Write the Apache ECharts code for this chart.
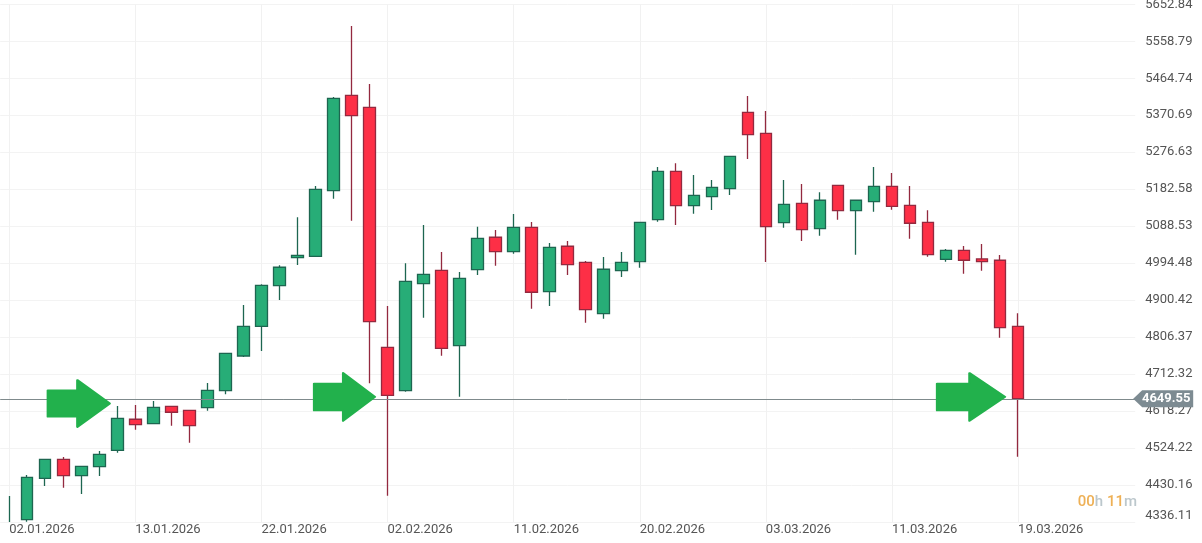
<!DOCTYPE html>
<html><head><meta charset="utf-8">
<style>html,body{margin:0;padding:0;background:#fff}#c{width:1202px;height:543px}</style>
<script src="https://cdn.jsdelivr.net/npm/echarts@6/dist/echarts.min.js"></script>
</head><body><div id="c"></div>
<script>
const categories = ['02.01.2026','05.01.2026','06.01.2026','07.01.2026','08.01.2026','09.01.2026','12.01.2026','13.01.2026','14.01.2026','15.01.2026','16.01.2026','19.01.2026','20.01.2026','21.01.2026','22.01.2026','23.01.2026','26.01.2026','27.01.2026','28.01.2026','29.01.2026','30.01.2026','02.02.2026','03.02.2026','04.02.2026','05.02.2026','06.02.2026','09.02.2026','10.02.2026','11.02.2026','12.02.2026','13.02.2026','16.02.2026','17.02.2026','18.02.2026','19.02.2026','20.02.2026','23.02.2026','24.02.2026','25.02.2026','26.02.2026','27.02.2026','02.03.2026','03.03.2026','04.03.2026','05.03.2026','06.03.2026','08.03.2026','09.03.2026','10.03.2026','11.03.2026','12.03.2026','13.03.2026','15.03.2026','16.03.2026','17.03.2026','18.03.2026','19.03.2026','','','','','',''];
const yTicks = [4336.11,4430.16,4524.22,4618.27,4712.32,4806.37,4900.42,4994.48,5088.53,5182.58,5276.63,5370.69,5464.74,5558.79,5652.84];
const opens = [4300,4342.0,4447.3,4495.6,4453.9,4476.8,4518.5,4597.4,4586.2,4630.4,4620.2,4626.9,4670.1,4758.3,4833.9,4937.1,5008.4,5011.9,5178.8,5421.4,5390.9,4780.5,4670.1,4942.2,4976.3,4784.6,4977.8,5060.3,5023.6,5085.7,4921.9,5037.4,4996.7,4865.9,4975.3,4998.2,5105,5228.1,5140.6,5163.5,5183.9,5378.2,5324.8,5097.4,5146.7,5082.1,5192.5,5127.9,5150.8,5190,5141.6,5098.4,5004.3,5027.2,5005.1,5001.8,4833.9];
const closes = [4325,4449.8,4495.6,4453.9,4477.8,4508.3,4599.9,4583.6,4627.9,4615.2,4581.1,4671.1,4765.2,4833.9,4938.2,4984,5014.5,5182.3,5413.8,5369.5,4845.6,4658.4,4948.3,4966.1,4777.9,4956,5057.7,5023.6,5085.7,4920.4,5034.8,4990.6,4876.1,4978.9,4996.7,5098.4,5228.1,5140.6,5167.1,5187.4,5266.3,5321.2,5087.2,5144.2,5079.6,5154.4,5127.9,5154.4,5190,5139.1,5095.9,5016,5027.2,5001.8,4998.2,4830.3,4649.55];
const lows = [4290,4336.9,4427.7,4423.4,4407.4,4453.1,4512.4,4570.9,4585.4,4581.1,4537.8,4619.2,4660.9,4755.8,4771.1,4900.8,4989.8,5011.9,5158.4,5102.5,4688.9,4403,4667.6,4855.8,4759.1,4654.8,4964.4,4988,5018.5,4878.7,4885.5,4964.4,4843,4853.2,4959.3,4982.9,5099.9,5091.5,5120.3,5129.7,5167.8,5259.4,4997.4,5084.7,5050.8,5064.3,5105,5016,5125.4,5130.4,5056.7,5010.9,4998.2,4967.7,4975.3,4804.9,4502.2];
const highs = [4402.3,4455.7,4496.4,4501.5,4478.6,4516.7,4631.2,4633.7,4643.9,4631.2,4621,4689.7,4766,4888.1,4940.7,4989,5111.1,5190.7,5417.1,5597.7,5450.2,4885.5,4994.1,5091.5,5022.9,4972,5087.2,5078.8,5119.5,5099.2,5045.8,5050.8,5000,5010.1,5022.9,5099.2,5239.1,5248.5,5218.7,5206,5267,5419.6,5381.5,5206,5195.8,5174.7,5193.3,5155.1,5239.1,5223.8,5190.7,5128.9,5030.5,5038.1,5043.2,5015.2,4867];
const lastPrice = 4649.55;

const axisMin = yTicks[0];
// A candle whose body lies below the visible range shows only its wick, which a line draws.
const candles = opens.map((o, i) => (Math.max(o, closes[i]) < axisMin ? '-' : [o, closes[i], lows[i], highs[i]]));
const clippedWicks = opens.map((o, i) => i).filter(i => Math.max(opens[i], closes[i]) < axisMin)
  .map(i => [{coord: [i, axisMin], lineStyle: {color: '#1d6650', width: 1.3, type: 'solid'}}, {coord: [i, highs[i]]}]);
const arrowPath = 'path://M0 11L30 11L30 0L63 25L30 50L30 39L0 39Z';
const tagPath = 'path://M0 8.5L9 0L60 0L60 17L9 17Z';
const fontFamily = 'Roboto, sans-serif';

const chart = echarts.init(document.getElementById('c'), null, {renderer: 'canvas'});
const arrowStyle = {color: '#22b14c', borderColor: '#22b14c', borderWidth: 2, borderJoin: 'round'};
chart.setOption({
  animation: false,
  backgroundColor: '#fff',
  grid: {left: 0.2, top: 4.3, width: 1135, height: 517.7, containLabel: false, outerBoundsMode: 'none'},
  xAxis: {
    type: 'category', data: categories, boundaryGap: true,
    axisLine: {show: false}, axisTick: {show: false, alignWithLabel: true, interval: 6},
    axisLabel: {interval: 6, align: 'left', margin: 1, color: '#555', fontSize: 13, fontFamily, hideOverlap: false, showMinLabel: true},
    splitLine: {show: true, interval: 6, alignWithLabel: true, lineStyle: {color: '#f1f1f1', width: 1}}
  },
  yAxis: {
    type: 'value', position: 'right', min: yTicks[0], max: yTicks[yTicks.length - 1], scale: true,
    axisLine: {show: false}, axisTick: {show: false, customValues: yTicks},
    axisLabel: {customValues: yTicks, margin: 10, color: '#555', fontSize: 13, fontFamily, padding: [2, 0, 0, 0],
      formatter: v => v.toFixed(2), verticalAlignMinLabel: 'bottom', showMinLabel: true, showMaxLabel: true},
    splitLine: {show: true, lineStyle: {color: '#f3f3f3', width: 1}}
  },
  series: [{
    type: 'candlestick', data: candles, barWidth: 12, clip: true,
    itemStyle: {color: '#27ad77', color0: '#fd2f46', borderColor: '#1d6650', borderColor0: '#93293f', borderWidth: 1.3},
    markLine: {
      silent: true, symbol: 'none', animation: false,
      lineStyle: {color: '#7f8a8c', width: 1, type: 'solid'}, label: {show: false},
      data: [{yAxis: lastPrice}].concat(clippedWicks)
    },
    markPoint: {
      silent: true, animation: false,
      data: [
        {coord: [4, 4637.5], symbol: arrowPath, symbolKeepAspect: false, symbolSize: [62, 47], symbolOffset: [-2.5, 0], itemStyle: arrowStyle, label: {show: false}},
        {coord: [19, 4654.1], symbol: arrowPath, symbolSize: [61, 48], symbolOffset: [-7, 0], itemStyle: arrowStyle, label: {show: false}},
        {coord: [53, 4654.1], symbol: arrowPath, symbolSize: [68, 48], symbolOffset: [7, 0], itemStyle: arrowStyle, label: {show: false}},
        {coord: [62, lastPrice], symbol: tagPath, symbolSize: [60, 17], symbolOffset: [37, 0],
          itemStyle: {color: '#7d8b92'},
          label: {show: true, formatter: lastPrice.toFixed(2), position: 'inside', offset: [3, 0], color: '#fff', fontWeight: 'bold', fontSize: 13, fontFamily}}
      ]
    }
  }],
  graphic: [{
    type: 'text', right: 65, top: 495, z: 10,
    style: {
      text: '{n|00}{u|h} {n|11}{u|m}', font: '500 15px Roboto',
      rich: {
        n: {fill: '#eeb055', fontSize: 15, fontWeight: 500, fontFamily},
        u: {fill: '#bcc7cc', fontSize: 15, fontWeight: 500, fontFamily}
      }
    }
  }]
});
</script></body></html>
